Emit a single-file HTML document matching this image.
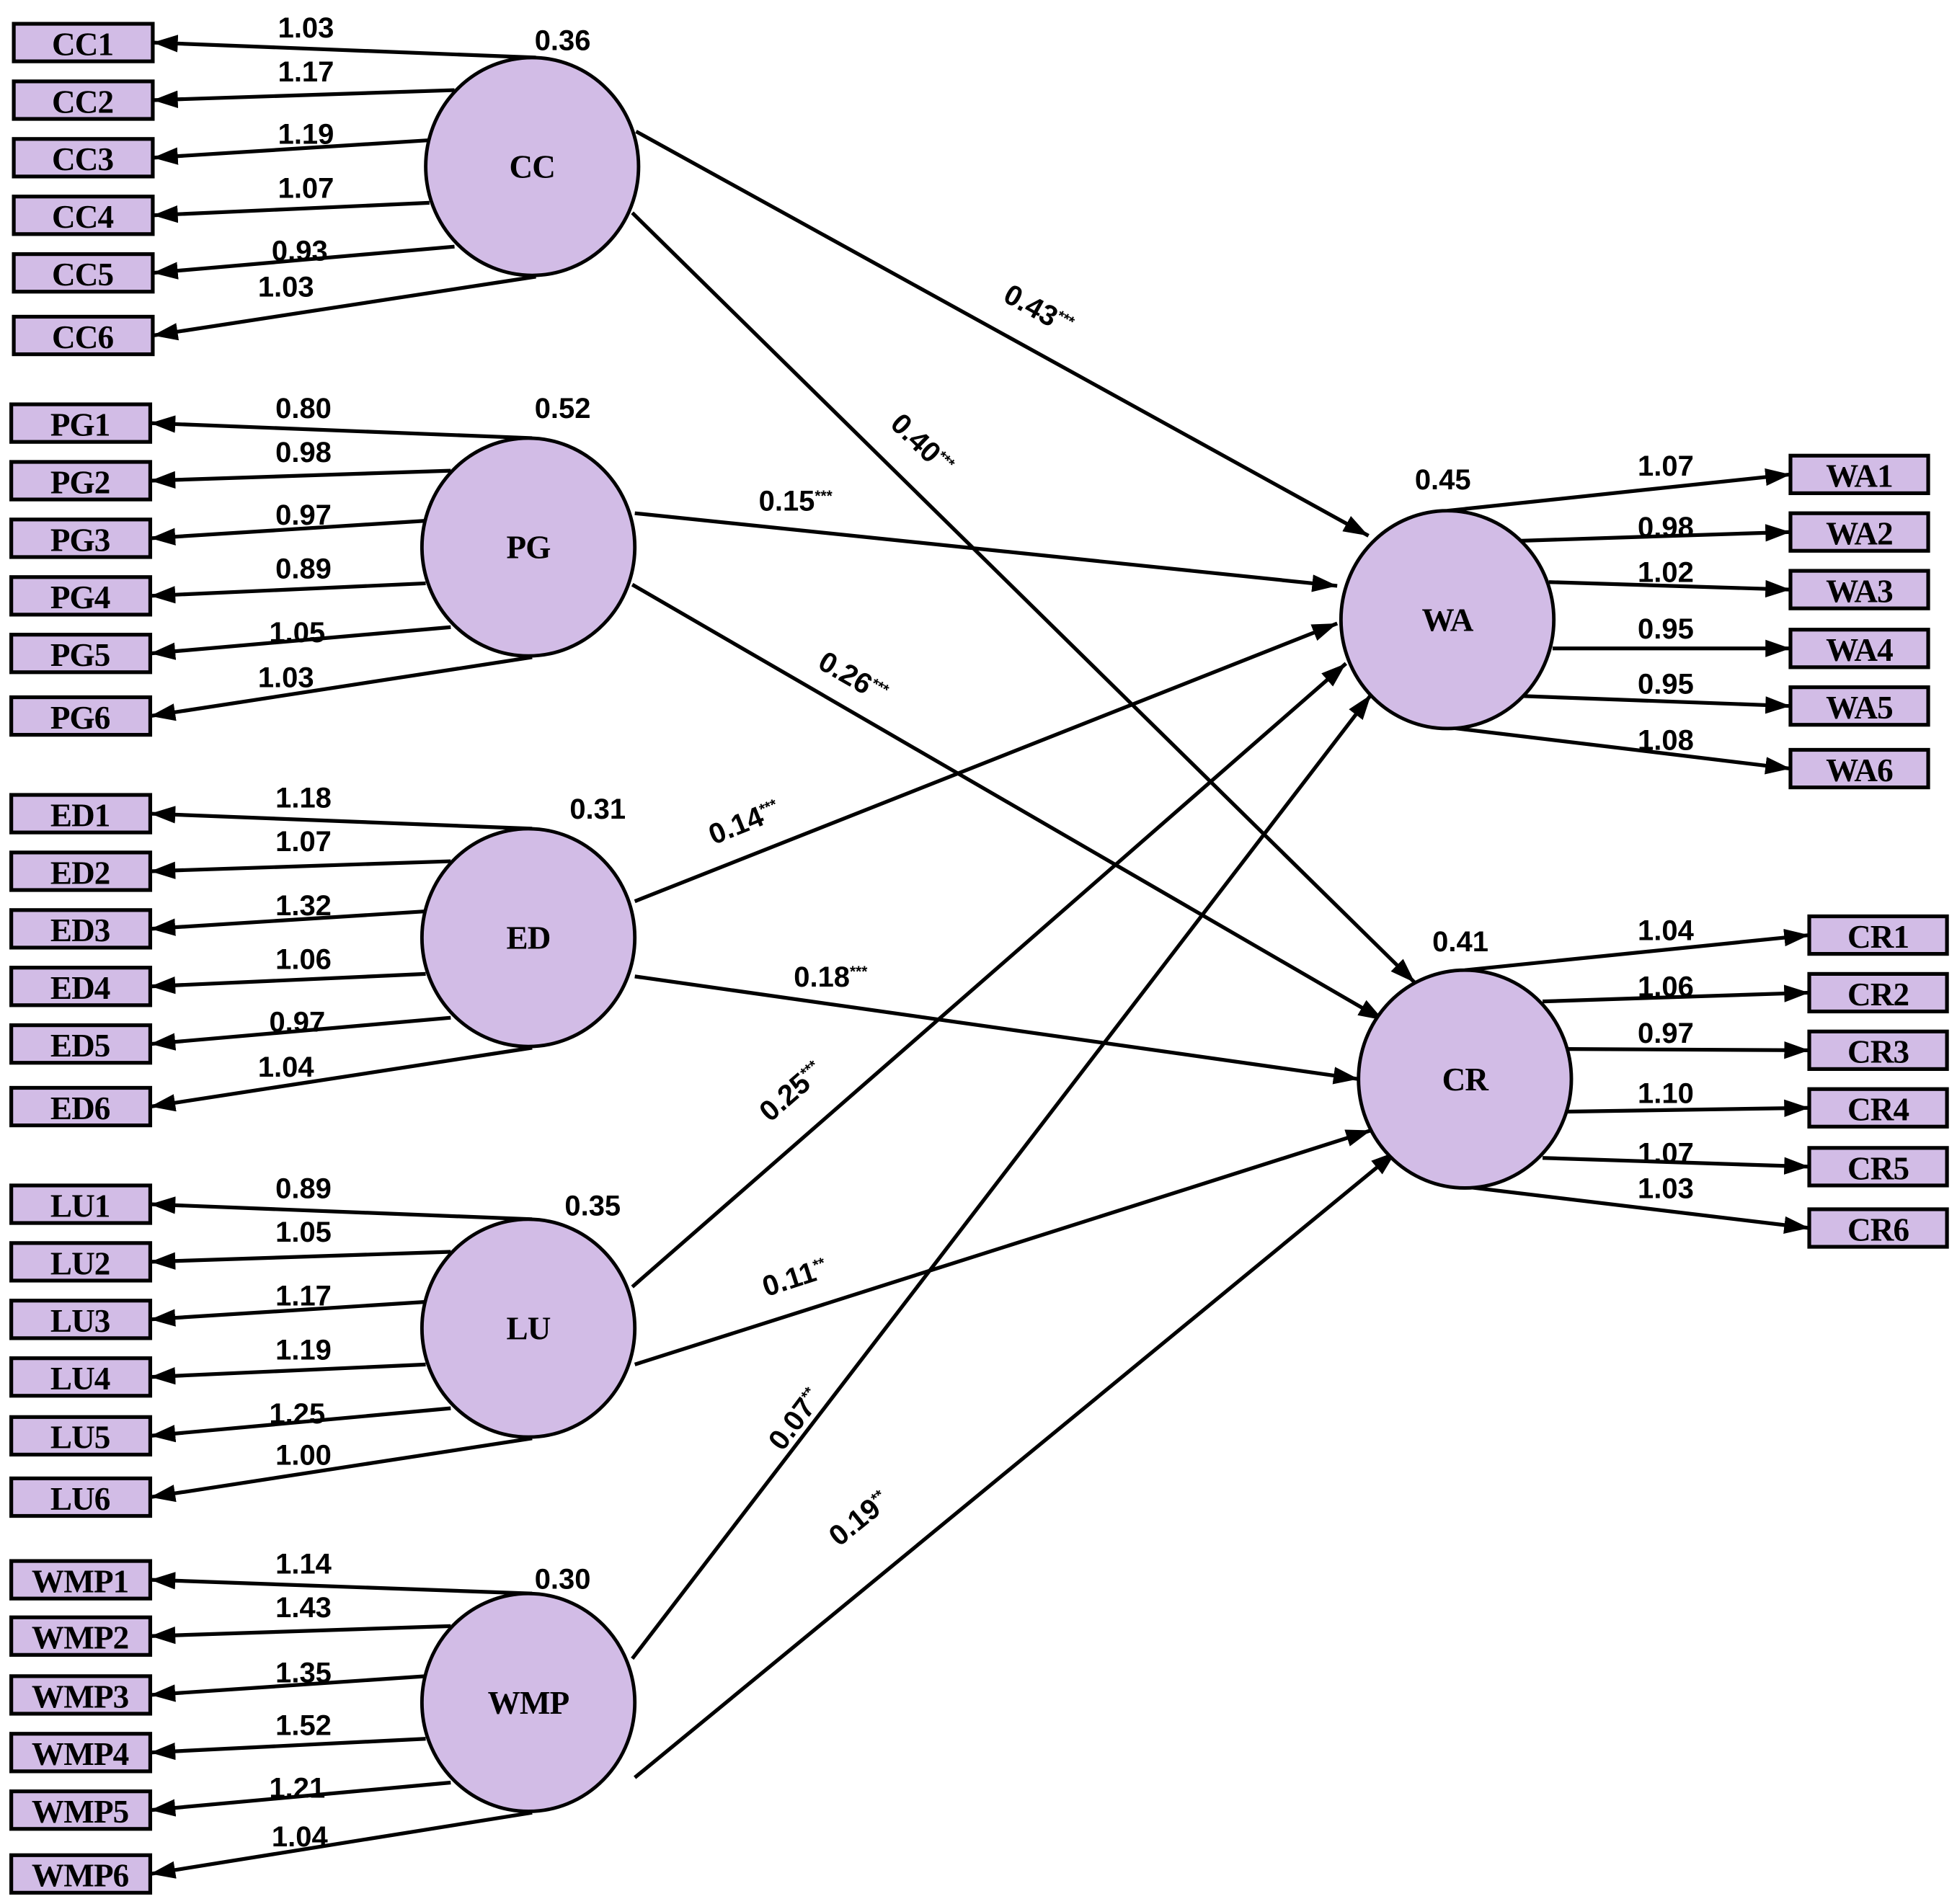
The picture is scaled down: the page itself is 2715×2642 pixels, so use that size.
<!DOCTYPE html>
<html><head><meta charset="utf-8"><style>
html,body{margin:0;padding:0;background:#fff;}
svg{display:block;}
.b{fill:#d2bce6;stroke:#000;stroke-width:3;}
.c{fill:#d2bce6;stroke:#000;stroke-width:2.8;}
.l{stroke:#000;stroke-width:3;fill:none;marker-end:url(#a);}
.t{font-family:"Liberation Sans",sans-serif;font-weight:bold;font-size:23px;fill:#000;}
.n{font-family:"Liberation Serif",serif;font-weight:bold;font-size:26px;fill:#000;text-anchor:middle;letter-spacing:-0.5px;}
.s{font-size:12px;}
</style></head><body>
<svg width="2715" height="2642" viewBox="0 0 1563 1521" preserveAspectRatio="none" xmlns="http://www.w3.org/2000/svg">
<defs><marker id="a" markerUnits="userSpaceOnUse" markerWidth="22" markerHeight="16" refX="20" refY="7" orient="auto"><path d="M0,0 L20,7 L0,14 z" fill="#000"/></marker></defs>

<line class="l" x1="508" y1="105" x2="1093" y2="428"/>
<line class="l" x1="505" y1="170" x2="1130" y2="785"/>
<line class="l" x1="507" y1="410" x2="1068" y2="468"/>
<line class="l" x1="505" y1="467" x2="1105" y2="815"/>
<line class="l" x1="507" y1="720" x2="1068" y2="498"/>
<line class="l" x1="507" y1="780" x2="1085" y2="862"/>
<line class="l" x1="505" y1="1028" x2="1075" y2="530"/>
<line class="l" x1="507" y1="1090" x2="1095" y2="903"/>
<line class="l" x1="505" y1="1325" x2="1095" y2="555"/>
<line class="l" x1="507" y1="1420" x2="1115" y2="920"/>

<g class="t">
<text transform="translate(800,240) rotate(29)">0.43<tspan class="s" dy="-8">***</tspan></text>
<text transform="translate(710,340) rotate(44)">0.40<tspan class="s" dy="-8">***</tspan></text>
<text transform="translate(606,408) rotate(0)">0.15<tspan class="s" dy="-8">***</tspan></text>
<text transform="translate(652,533) rotate(30)">0.26<tspan class="s" dy="-8">***</tspan></text>
<text transform="translate(570,675) rotate(-22)">0.14<tspan class="s" dy="-8">***</tspan></text>
<text transform="translate(634,788) rotate(0)">0.18<tspan class="s" dy="-8">***</tspan></text>
<text transform="translate(615,897) rotate(-41)">0.25<tspan class="s" dy="-8">***</tspan></text>
<text transform="translate(612,1036) rotate(-18)">0.11<tspan class="s" dy="-8">**</tspan></text>
<text transform="translate(625,1160) rotate(-53)">0.07<tspan class="s" dy="-8">**</tspan></text>
<text transform="translate(670,1236) rotate(-39)">0.19<tspan class="s" dy="-8">**</tspan></text>
</g>

<line class="l" x1="428" y1="46" x2="122" y2="34"/>
<line class="l" x1="363" y1="72" x2="122" y2="80"/>
<line class="l" x1="343" y1="112" x2="122" y2="126"/>
<line class="l" x1="343" y1="162" x2="122" y2="172"/>
<line class="l" x1="363" y1="197" x2="122" y2="218"/>
<line class="l" x1="428" y1="221" x2="122" y2="268"/>
<ellipse class="c" cx="425" cy="133" rx="85" ry="87"/>
<text class="n" x="425" y="142">CC</text>
<rect class="b" x="11" y="19" width="111" height="30"/><text class="n" x="66" y="44">CC1</text>
<rect class="b" x="11" y="65" width="111" height="30"/><text class="n" x="66" y="90">CC2</text>
<rect class="b" x="11" y="111" width="111" height="30"/><text class="n" x="66" y="136">CC3</text>
<rect class="b" x="11" y="157" width="111" height="30"/><text class="n" x="66" y="182">CC4</text>
<rect class="b" x="11" y="203" width="111" height="30"/><text class="n" x="66" y="228">CC5</text>
<rect class="b" x="11" y="253" width="111" height="30"/><text class="n" x="66" y="278">CC6</text>
<g class="t">
<text x="222" y="30">1.03</text><text x="222" y="65">1.17</text><text x="222" y="115">1.19</text>
<text x="222" y="158">1.07</text><text x="217" y="208">0.93</text><text x="206" y="237">1.03</text>
<text x="427" y="40">0.36</text>
</g>

<line class="l" x1="425" y1="350" x2="120" y2="338"/>
<line class="l" x1="360" y1="376" x2="120" y2="384"/>
<line class="l" x1="340" y1="416" x2="120" y2="430"/>
<line class="l" x1="340" y1="466" x2="120" y2="476"/>
<line class="l" x1="360" y1="501" x2="120" y2="522"/>
<line class="l" x1="425" y1="525" x2="120" y2="572"/>
<ellipse class="c" cx="422" cy="437" rx="85" ry="87"/>
<text class="n" x="422" y="446">PG</text>
<rect class="b" x="9" y="323" width="111" height="30"/><text class="n" x="64" y="348">PG1</text>
<rect class="b" x="9" y="369" width="111" height="30"/><text class="n" x="64" y="394">PG2</text>
<rect class="b" x="9" y="415" width="111" height="30"/><text class="n" x="64" y="440">PG3</text>
<rect class="b" x="9" y="461" width="111" height="30"/><text class="n" x="64" y="486">PG4</text>
<rect class="b" x="9" y="507" width="111" height="30"/><text class="n" x="64" y="532">PG5</text>
<rect class="b" x="9" y="557" width="111" height="30"/><text class="n" x="64" y="582">PG6</text>
<g class="t">
<text x="220" y="334">0.80</text><text x="220" y="369">0.98</text><text x="220" y="419">0.97</text>
<text x="220" y="462">0.89</text><text x="215" y="513">1.05</text><text x="206" y="549">1.03</text>
<text x="427" y="334">0.52</text>
</g>

<line class="l" x1="425" y1="662" x2="120" y2="650"/>
<line class="l" x1="360" y1="688" x2="120" y2="696"/>
<line class="l" x1="340" y1="728" x2="120" y2="742"/>
<line class="l" x1="340" y1="778" x2="120" y2="788"/>
<line class="l" x1="360" y1="813" x2="120" y2="834"/>
<line class="l" x1="425" y1="837" x2="120" y2="884"/>
<ellipse class="c" cx="422" cy="749" rx="85" ry="87"/>
<text class="n" x="422" y="758">ED</text>
<rect class="b" x="9" y="635" width="111" height="30"/><text class="n" x="64" y="660">ED1</text>
<rect class="b" x="9" y="681" width="111" height="30"/><text class="n" x="64" y="706">ED2</text>
<rect class="b" x="9" y="727" width="111" height="30"/><text class="n" x="64" y="752">ED3</text>
<rect class="b" x="9" y="773" width="111" height="30"/><text class="n" x="64" y="798">ED4</text>
<rect class="b" x="9" y="819" width="111" height="30"/><text class="n" x="64" y="844">ED5</text>
<rect class="b" x="9" y="869" width="111" height="30"/><text class="n" x="64" y="894">ED6</text>
<g class="t">
<text x="220" y="645">1.18</text><text x="220" y="680">1.07</text><text x="220" y="731">1.32</text>
<text x="220" y="774">1.06</text><text x="215" y="824">0.97</text><text x="206" y="860">1.04</text>
<text x="455" y="654">0.31</text>
</g>

<line class="l" x1="425" y1="974" x2="120" y2="962"/>
<line class="l" x1="360" y1="1000" x2="120" y2="1008"/>
<line class="l" x1="340" y1="1040" x2="120" y2="1054"/>
<line class="l" x1="340" y1="1090" x2="120" y2="1100"/>
<line class="l" x1="360" y1="1125" x2="120" y2="1147"/>
<line class="l" x1="425" y1="1149" x2="120" y2="1196"/>
<ellipse class="c" cx="422" cy="1061" rx="85" ry="87"/>
<text class="n" x="422" y="1070">LU</text>
<rect class="b" x="9" y="947" width="111" height="30"/><text class="n" x="64" y="972">LU1</text>
<rect class="b" x="9" y="993" width="111" height="30"/><text class="n" x="64" y="1018">LU2</text>
<rect class="b" x="9" y="1039" width="111" height="30"/><text class="n" x="64" y="1064">LU3</text>
<rect class="b" x="9" y="1085" width="111" height="30"/><text class="n" x="64" y="1110">LU4</text>
<rect class="b" x="9" y="1132" width="111" height="30"/><text class="n" x="64" y="1157">LU5</text>
<rect class="b" x="9" y="1181" width="111" height="30"/><text class="n" x="64" y="1206">LU6</text>
<g class="t">
<text x="220" y="957">0.89</text><text x="220" y="992">1.05</text><text x="220" y="1043">1.17</text>
<text x="220" y="1086">1.19</text><text x="215" y="1137">1.25</text><text x="220" y="1170">1.00</text>
<text x="451" y="971">0.35</text>
</g>

<line class="l" x1="425" y1="1273" x2="120" y2="1262"/>
<line class="l" x1="360" y1="1299" x2="120" y2="1307"/>
<line class="l" x1="340" y1="1339" x2="120" y2="1354"/>
<line class="l" x1="340" y1="1389" x2="120" y2="1400"/>
<line class="l" x1="360" y1="1424" x2="120" y2="1446"/>
<line class="l" x1="425" y1="1448" x2="120" y2="1497"/>
<ellipse class="c" cx="422" cy="1360" rx="85" ry="87"/>
<text class="n" x="422" y="1369">WMP</text>
<rect class="b" x="9" y="1247" width="111" height="30"/><text class="n" x="64" y="1272">WMP1</text>
<rect class="b" x="9" y="1292" width="111" height="30"/><text class="n" x="64" y="1317">WMP2</text>
<rect class="b" x="9" y="1339" width="111" height="30"/><text class="n" x="64" y="1364">WMP3</text>
<rect class="b" x="9" y="1385" width="111" height="30"/><text class="n" x="64" y="1410">WMP4</text>
<rect class="b" x="9" y="1431" width="111" height="30"/><text class="n" x="64" y="1456">WMP5</text>
<rect class="b" x="9" y="1482" width="111" height="30"/><text class="n" x="64" y="1507">WMP6</text>
<g class="t">
<text x="220" y="1257">1.14</text><text x="220" y="1292">1.43</text><text x="220" y="1344">1.35</text>
<text x="220" y="1386">1.52</text><text x="215" y="1436">1.21</text><text x="217" y="1475">1.04</text>
<text x="427" y="1269">0.30</text>
</g>

<line class="l" x1="1156" y1="408" x2="1430" y2="379"/>
<line class="l" x1="1215" y1="432" x2="1430" y2="425"/>
<line class="l" x1="1237" y1="465" x2="1430" y2="471"/>
<line class="l" x1="1240" y1="518" x2="1430" y2="518"/>
<line class="l" x1="1215" y1="556" x2="1430" y2="564"/>
<line class="l" x1="1156" y1="581" x2="1430" y2="614"/>
<ellipse class="c" cx="1156" cy="495" rx="85" ry="87"/>
<text class="n" x="1156" y="504">WA</text>
<rect class="b" x="1430" y="364" width="110" height="30"/><text class="n" x="1485" y="389">WA1</text>
<rect class="b" x="1430" y="410" width="110" height="30"/><text class="n" x="1485" y="435">WA2</text>
<rect class="b" x="1430" y="456" width="110" height="30"/><text class="n" x="1485" y="481">WA3</text>
<rect class="b" x="1430" y="503" width="110" height="30"/><text class="n" x="1485" y="528">WA4</text>
<rect class="b" x="1430" y="549" width="110" height="30"/><text class="n" x="1485" y="574">WA5</text>
<rect class="b" x="1430" y="599" width="110" height="30"/><text class="n" x="1485" y="624">WA6</text>
<g class="t">
<text x="1308" y="380">1.07</text><text x="1308" y="429">0.98</text><text x="1308" y="465">1.02</text>
<text x="1308" y="510">0.95</text><text x="1308" y="554">0.95</text><text x="1308" y="599">1.08</text>
<text x="1130" y="391">0.45</text>
</g>

<line class="l" x1="1170" y1="775" x2="1445" y2="747"/>
<line class="l" x1="1232" y1="800" x2="1445" y2="793"/>
<line class="l" x1="1252" y1="838" x2="1445" y2="839"/>
<line class="l" x1="1252" y1="888" x2="1445" y2="885"/>
<line class="l" x1="1232" y1="925" x2="1445" y2="932"/>
<line class="l" x1="1170" y1="948" x2="1445" y2="981"/>
<ellipse class="c" cx="1170" cy="862" rx="85" ry="87"/>
<text class="n" x="1170" y="871">CR</text>
<rect class="b" x="1445" y="732" width="110" height="30"/><text class="n" x="1500" y="757">CR1</text>
<rect class="b" x="1445" y="778" width="110" height="30"/><text class="n" x="1500" y="803">CR2</text>
<rect class="b" x="1445" y="824" width="110" height="30"/><text class="n" x="1500" y="849">CR3</text>
<rect class="b" x="1445" y="870" width="110" height="30"/><text class="n" x="1500" y="895">CR4</text>
<rect class="b" x="1445" y="917" width="110" height="30"/><text class="n" x="1500" y="942">CR5</text>
<rect class="b" x="1445" y="966" width="110" height="30"/><text class="n" x="1500" y="991">CR6</text>
<g class="t">
<text x="1308" y="751">1.04</text><text x="1308" y="796">1.06</text><text x="1308" y="833">0.97</text>
<text x="1308" y="881">1.10</text><text x="1308" y="929">1.07</text><text x="1308" y="957">1.03</text>
<text x="1144" y="760">0.41</text>
</g>
</svg>
</body></html>
